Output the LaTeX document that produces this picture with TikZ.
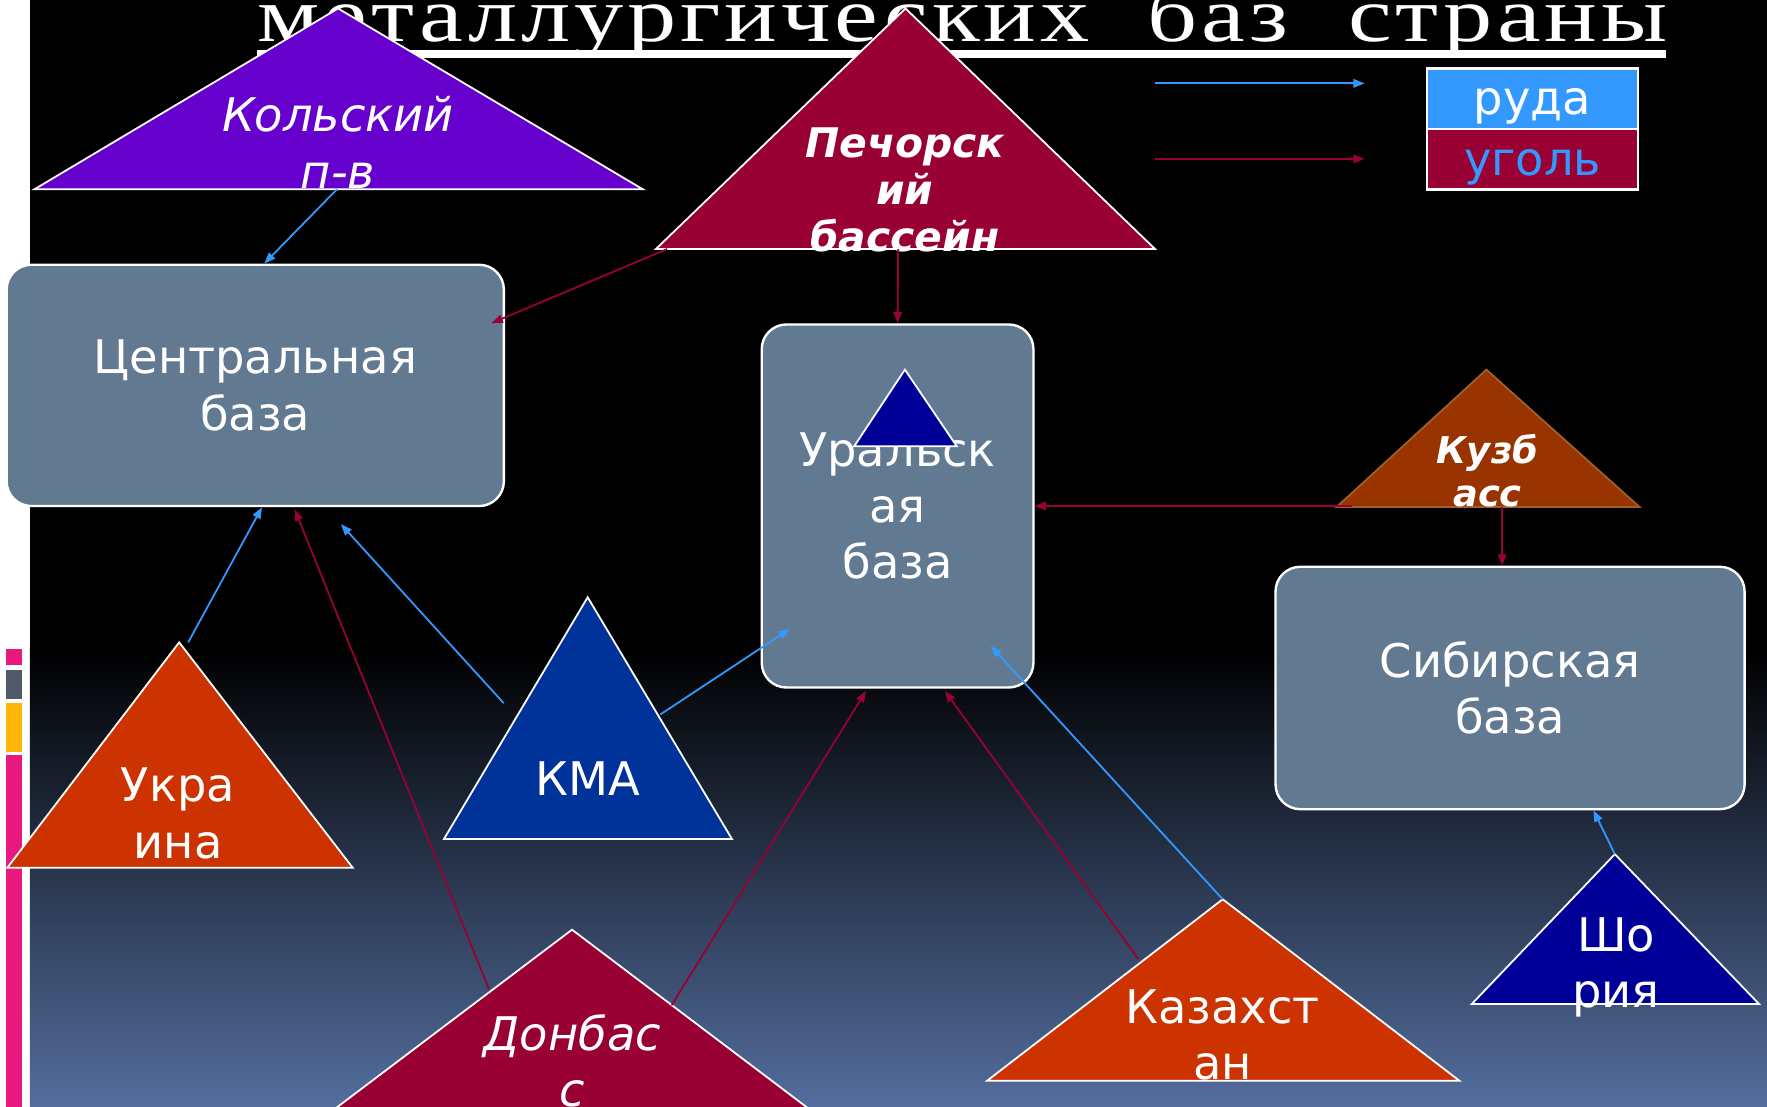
\documentclass[tikz,border=0pt]{standalone}
\usepackage{fontspec}
\usetikzlibrary{arrows.meta,positioning}
\newfontfamily\verd{DejaVu Sans}
\newfontfamily\titlefont[LetterSpace=4]{Liberation Serif}
\newcommand\labfont{\verd\fontsize{11.7}{14.2}\selectfont}
\definecolor{kolviolet}{HTML}{6600CC}
\definecolor{coalred}{HTML}{990033}
\definecolor{oreblue}{HTML}{3399FF}
\definecolor{navy}{HTML}{000099}
\definecolor{kmablue}{HTML}{003399}
\definecolor{rust}{HTML}{CC3300}
\definecolor{kuzbrown}{HTML}{993300}
\definecolor{kuzedge}{HTML}{A0602A}
\definecolor{baseslate}{RGB}{98,121,146}
\definecolor{bgblue}{RGB}{83,109,157}
\definecolor{stripink}{RGB}{233,24,126}
\definecolor{stripgrey}{RGB}{79,91,109}
\definecolor{stripgold}{RGB}{255,182,10}
\tikzset{
  basebox/.style={draw=white, line width=0.6pt, fill=baseslate, rounded corners=0.22cm,
    text=white, font=\labfont, align=center, inner sep=0pt},
  tri/.style={draw=white, line width=0.45pt},
  lbl/.style={text=white, font=\labfont, align=center, anchor=base, inner sep=0pt},
  legbox/.style={draw=white, line width=0.6pt, minimum width=1.87cm, minimum height=0.535cm,
    inner sep=0pt, text height=0.39cm, text depth=0.1cm, font=\labfont},
  ore/.style={draw=oreblue, line width=0.45pt, -{Triangle[length=0.1cm,width=0.075cm]}},
  coal/.style={draw=coalred, line width=0.45pt, -{Triangle[length=0.1cm,width=0.075cm]}}
}
\begin{document}
\begin{tikzpicture}[x=0.01cm, y=-0.01cm]
  \useasboundingbox (0,0) rectangle (1568,982);
  \clip (0,0) rectangle (1568,982);
  % Background
  \fill[white] (0,0) rectangle (1568,982);
  \fill[black] (26.6,0) rectangle (1568,982);
  \shade[top color=black, bottom color=bgblue] (26.6,575) rectangle (1568,982);
  \fill[stripink] (5.3,576) rectangle (19.5,590);
  \fill[stripgrey] (5.3,594.5) rectangle (19.5,620);
  \fill[stripgold] (5.3,624) rectangle (19.5,667);
  \fill[stripink] (5.3,670) rectangle (19.5,982);
  % Title
  \node[font=\titlefont\fontsize{19.7}{20}\selectfont, text=white, anchor=base west,
    inner sep=0pt] (title) at (228,37)
    {\scalebox{1.26}[1]{металлургических\hspace{0.207cm} баз\hspace{0.222cm} страны}};
  \fill[white] (228,44.5) rectangle (1478,51.5);

  % Define triangles
  \coordinate (kolA) at (300,7.5);
  \coordinate (kolL) at (30.5,168);
  \coordinate (kolR) at (570.5,168);
  \filldraw[tri, fill=kolviolet] (kolA) -- (kolL) -- (kolR) -- cycle;
  \node[lbl, font=\labfont\itshape] (kol) at (300,167) {Кольский\\п-в};

  \coordinate (pechA) at (803.5,7.5);
  \coordinate (pechL) at (582,221);
  \coordinate (pechR) at (1025,221);
  \filldraw[tri, fill=coalred] (pechA) -- (pechL) -- (pechR) -- cycle;
  \node[lbl, font=\verd\fontsize{10.3}{11.9}\selectfont\bfseries\itshape] (pech)
    at (803,223.5) {Печорск\\ий\\бассейн};

  \coordinate (kuzA) at (1319,328);
  \coordinate (kuzL) at (1186,450);
  \coordinate (kuzR) at (1455,450);
  \filldraw[draw=kuzedge, line width=0.45pt, fill=kuzbrown] (kuzA) -- (kuzL) -- (kuzR) -- cycle;
  \node[lbl, font=\verd\fontsize{9.3}{11}\selectfont\bfseries\itshape] (kuz)
    at (1320,449.6) {Кузб\\асс};

  \coordinate (shoA) at (1433,758);
  \coordinate (shoL) at (1306,891);
  \coordinate (shoR) at (1561,891);
  \filldraw[tri, fill=navy] (shoA) -- (shoL) -- (shoR) -- cycle;
  \node[lbl] (sho) at (1434,894) {Шо\\рия};

  \coordinate (ukrA) at (159,570);
  \coordinate (ukrL) at (6.5,770);
  \coordinate (ukrR) at (313,770);
  \filldraw[tri, fill=rust] (ukrA) -- (ukrL) -- (ukrR) -- cycle;
  \node[lbl] (ukr) at (158,761.6) {Укра\\ина};

  \coordinate (kmaA) at (521.5,530);
  \coordinate (kmaL) at (394,744.5);
  \coordinate (kmaR) at (649.5,744.5);
  \filldraw[tri, fill=kmablue] (kmaA) -- (kmaL) -- (kmaR) -- cycle;
  \node[lbl] (kma) at (521.5,705.5) {КМА};

  \coordinate (donA) at (507.6,825);
  \coordinate (donL) at (276,1000);
  \coordinate (donR) at (739,1000);
  \filldraw[tri, fill=coalred] (donA) -- (donL) -- (donR) -- cycle;
  \node[lbl, font=\labfont\itshape] (don) at (508,982) {Донбас\\с};

  \coordinate (kazA) at (1085,798);
  \coordinate (kazL) at (876,959);
  \coordinate (kazR) at (1295,959);
  \filldraw[tri, fill=rust] (kazA) -- (kazL) -- (kazR) -- cycle;
  \node[lbl] (kaz) at (1085,958) {Казахст\\ан};

  % Define bases
  \node[basebox, minimum width=4.41cm, minimum height=2.14cm] (centr) at (226.5,342)
    {Центральная\\база};
  \node[basebox, minimum width=2.41cm, minimum height=3.22cm] (ural) at (796.5,449)
    {Уральск\\ая\\база};
  \node[basebox, minimum width=4.16cm, minimum height=2.15cm] (sib) at (1340,610.5)
    {Сибирская\\база};
  \filldraw[tri, fill=navy] (803,328) -- (758,396) -- (849,396) -- cycle;

  % Legend
  \coordinate (lgOreA) at (1025,74);
  \coordinate (lgOreB) at (1211,74);
  \coordinate (lgCoalA) at (1025,141);
  \coordinate (lgCoalB) at (1211,141);
  \node[legbox, fill=oreblue, text=white] (ruda) at (1360,87.5) {руда};
  \node[legbox, fill=coalred, text=oreblue] (ugol) at (1360,141.25) {уголь};
  \draw[ore] (lgOreA) -- (lgOreB);
  \draw[coal] (lgCoalA) -- (lgCoalB);

  % Connect nodes
  \coordinate (kolB) at (299,168);
  \coordinate (pechLB) at (592,221);
  \coordinate (pechB) at (797,221);
  \coordinate (kuzLB) at (1200,449);
  \coordinate (kuzB) at (1333,450);
  \coordinate (ukrTop) at (167,570);
  \coordinate (kmaLE) at (447,624);
  \coordinate (kmaRE) at (586,634);
  \coordinate (donLE) at (434,878);
  \coordinate (donRE) at (596,892);
  \coordinate (kazLE) at (1010,851);
  \draw[ore] (kolB) -- ([shift={(8,0)}]centr.north);
  \draw[coal] (pechLB) -- ([shift={(-12,0)}]centr.14);
  \draw[coal] (pechB) -- (ural.north);
  \draw[coal] (kuzLB) -- (ural.east);
  \draw[coal] (kuzB) -- ([shift={(-7,0)}]sib.north);
  \draw[ore] (shoA) -- ([shift={(74,0)}]sib.south);
  \draw[ore] (ukrTop) -- ([shift={(6,0)}]centr.south);
  \draw[ore] (kmaLE) -- ([shift={(76,15)}]centr.south);
  \draw[ore] (kmaRE) -- ([shift={(26,-53)}]ural.south west);
  \draw[coal] (donLE) -- ([shift={(35,2)}]centr.south);
  \draw[coal] (donRE) -- ([shift={(-28,2)}]ural.south);
  \draw[coal] (kazLE) -- ([shift={(42,2)}]ural.south);
  \draw[ore] (kazA) -- ([shift={(-39,-38)}]ural.south east);
\end{tikzpicture}
\end{document}
